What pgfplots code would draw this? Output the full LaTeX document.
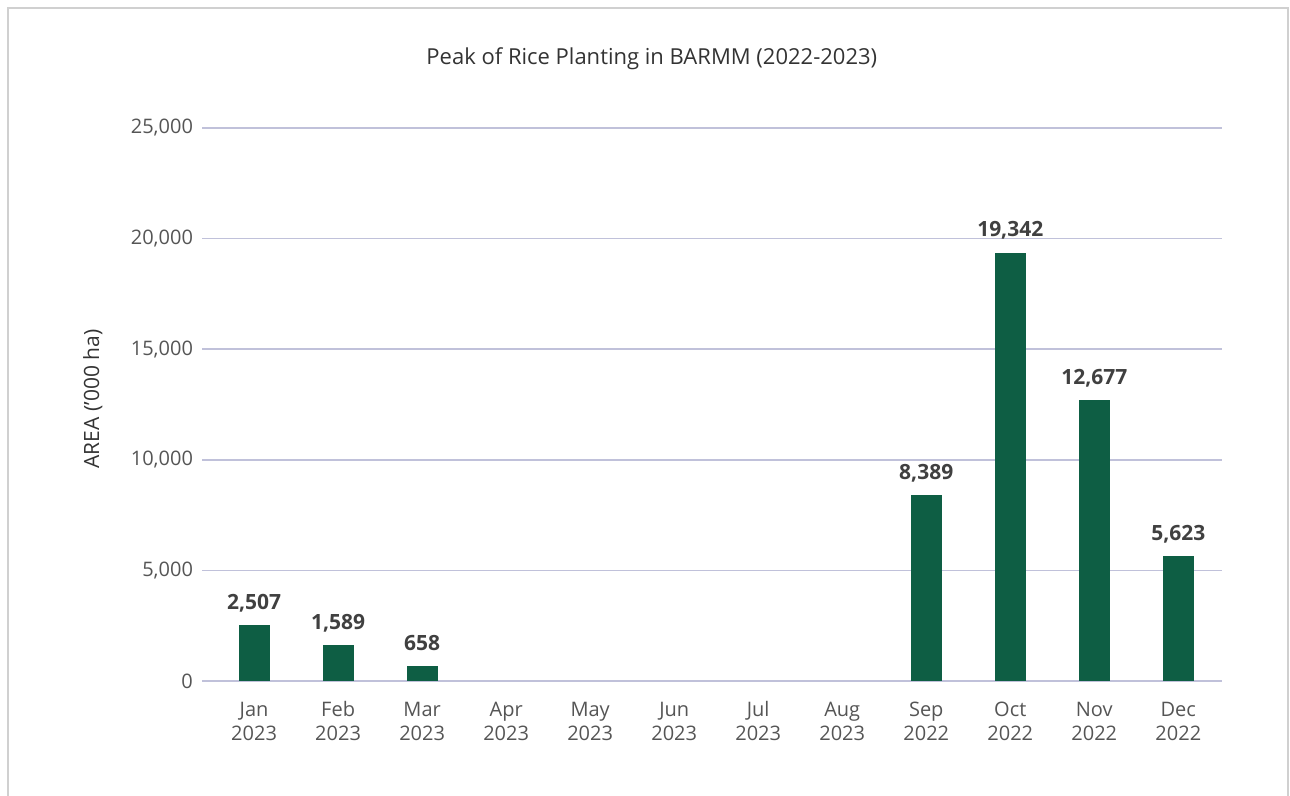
\documentclass[border=0pt]{standalone}
\usepackage{fontspec}
\setmainfont{Open Sans}
\usepackage{pgfplots}
\pgfplotsset{compat=1.18}
\definecolor{bargreen}{HTML}{0E5E44}
\definecolor{gridc}{HTML}{C0C1DA}
\definecolor{tickc}{HTML}{555555}
\definecolor{titlec}{HTML}{333333}
\definecolor{labc}{HTML}{404040}
\definecolor{framec}{HTML}{D0D0D0}
\begin{document}
\begin{tikzpicture}
\useasboundingbox (0,0) rectangle (645pt,398pt);
\begin{axis}[
  at={(101pt,57.5pt)}, anchor=south west,
  scale only axis, width=510pt, height=276.5pt,
  xmin=-0.62, xmax=11.52,
  ymin=0, ymax=25000,
  ytick={0,5000,10000,15000,20000,25000},
  xtick={0,1,2,3,4,5,6,7,8,9,10,11},
  xticklabels={{\strut Jan\\2023},{\strut Feb\\2023},{\strut Mar\\2023},{\strut Apr\\2023},{\strut May\\2023},{\strut Jun\\2023},{\strut Jul\\2023},{\strut Aug\\2023},{\strut Sep\\2022},{\strut Oct\\2022},{\strut Nov\\2022},{\strut Dec\\2022}},
  scaled y ticks=false,
  /pgf/number format/assume math mode=true,
  yticklabel style={/pgf/number format/fixed, /pgf/number format/1000 sep={,}, xshift=-1pt},
  tick label style={font=\fontsize{10}{12}\selectfont, text=tickc},
  xticklabel style={align=center, anchor=north, yshift=-6pt},
  major tick length=0pt,
  axis line style={draw=none},
  ymajorgrids, grid style={gridc, line width=0.8pt},
  title={Peak of Rice Planting in BARMM (2022-2023)},
  title style={at={(axis description cs:0.441,1.104)}, anchor=center, font=\fontsize{11}{13}\selectfont, text=titlec},
  ylabel={AREA ('000 ha)},
  ylabel style={at={(axis description cs:-0.107,0.51)}, anchor=center, font=\fontsize{10.5}{12}\selectfont, text=titlec},
  ybar, bar width=15pt,
  nodes near coords,
  every node near coord/.append style={font=\fontsize{10.5}{12}\selectfont\bfseries, text=labc, inner sep=0pt, text depth=0pt, anchor=south, yshift=8pt, /pgf/number format/fixed, /pgf/number format/1000 sep={,}},
]
\addplot[fill=bargreen, draw=bargreen] coordinates {
  (0,2507) (1,1589) (2,658) (8,8389) (9,19342) (10,12677) (11,5623)
};
\end{axis}
\draw[framec, line width=1pt] (4pt,0pt) -- (4pt,394pt) -- (644pt,394pt) -- (644pt,0pt);
\end{tikzpicture}
\end{document}
